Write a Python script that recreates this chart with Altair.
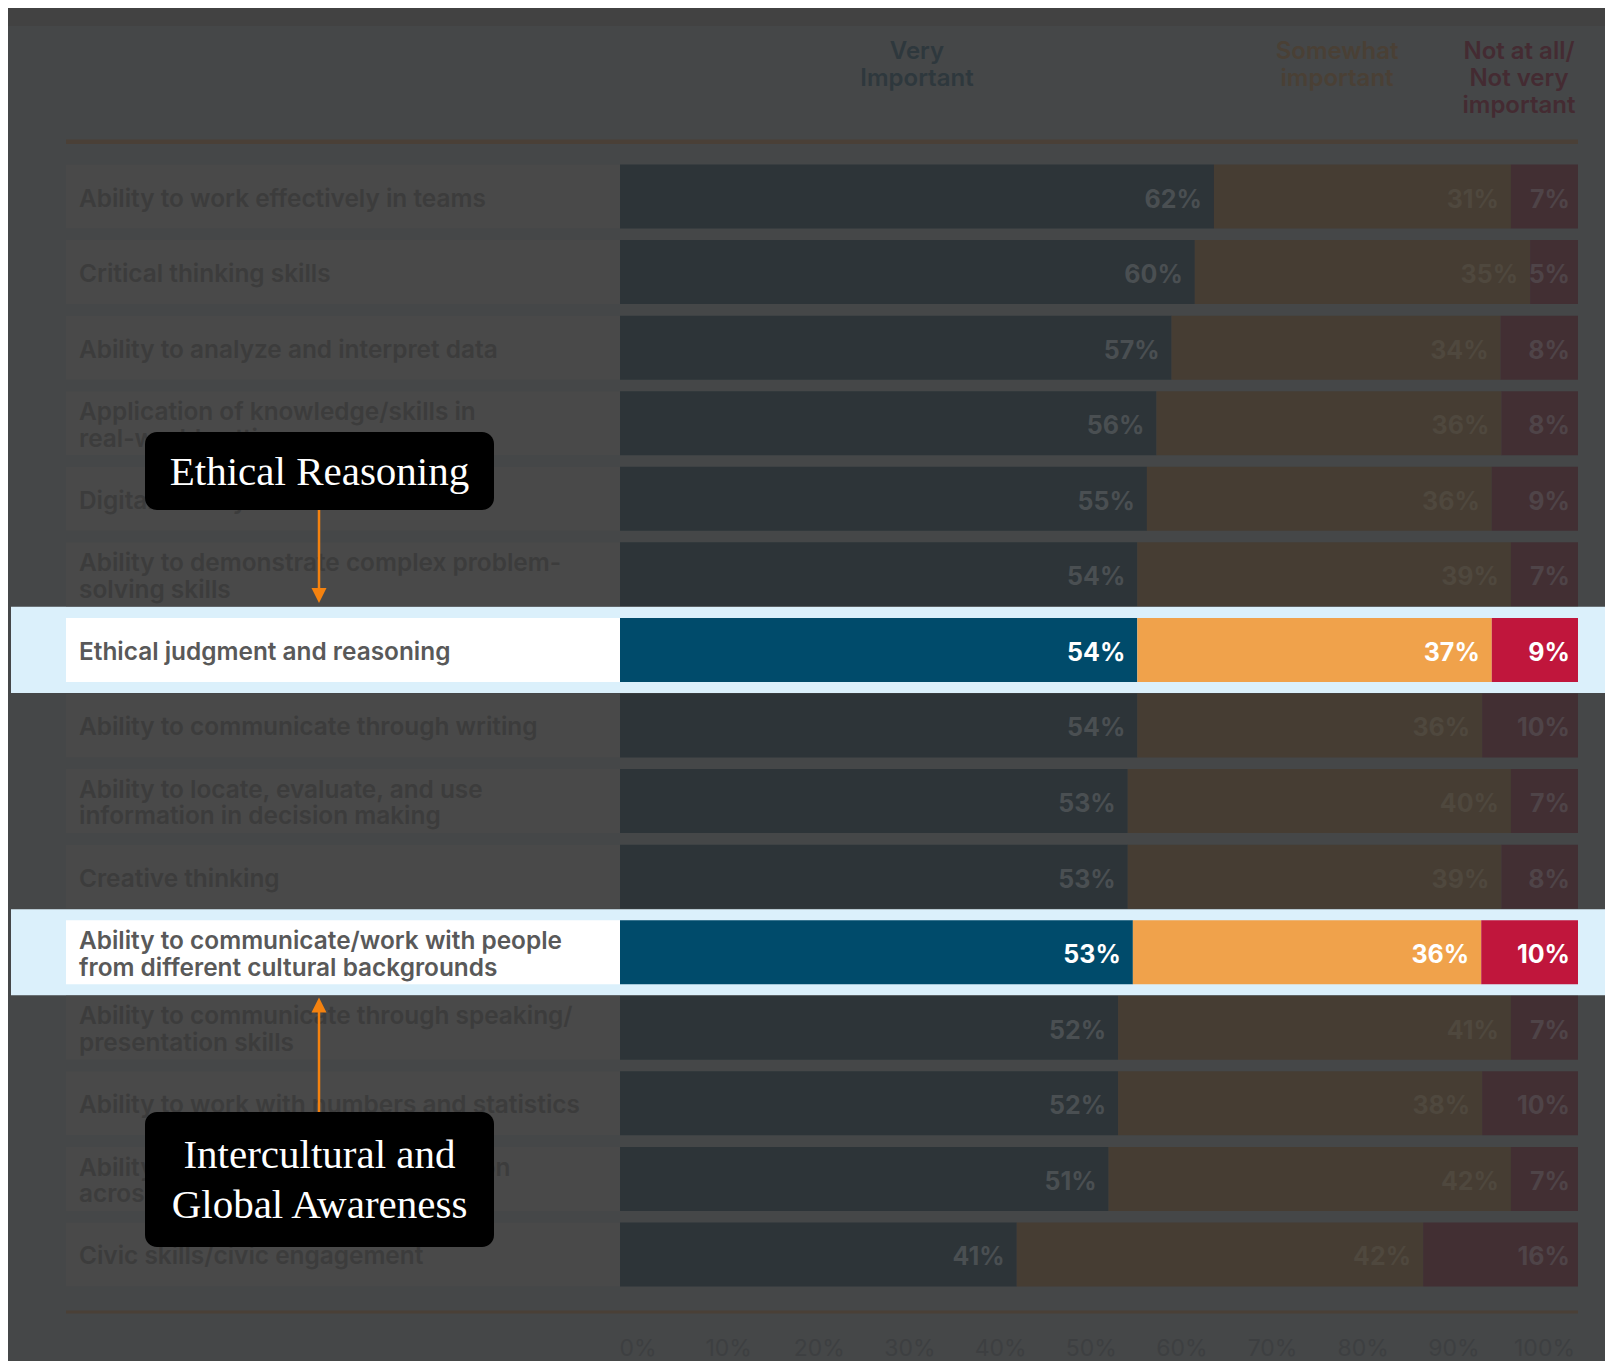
import altair as alt
import pandas as pd

# ---------------- data ----------------
labels = [
    "Ability to work effectively in teams",
    "Critical thinking skills",
    "Ability to analyze and interpret data",
    "Application of knowledge/skills in\nreal-world settings",
    "Digital literacy",
    "Ability to demonstrate complex problem-\nsolving skills",
    "Ethical judgment and reasoning",
    "Ability to communicate through writing",
    "Ability to locate, evaluate, and use\ninformation in decision making",
    "Creative thinking",
    "Ability to communicate/work with people\nfrom different cultural backgrounds",
    "Ability to communicate through speaking/\npresentation skills",
    "Ability to work with numbers and statistics",
    "Ability to integrate ideas/information\nacross disciplines",
    "Civic skills/civic engagement",
]
very = [62, 60, 57, 56, 55, 54, 54, 54, 53, 53, 53, 52, 52, 51, 41]
somewhat = [31, 35, 34, 36, 36, 39, 37, 36, 40, 39, 36, 41, 38, 42, 42]
not_imp = [7, 5, 8, 8, 9, 7, 9, 10, 7, 8, 10, 7, 10, 7, 16]
highlighted_rows = [6, 10]
segment_names = ["Very Important", "Somewhat important", "Not at all/Not very important"]
header_lines = [["Very", "Important"], ["Somewhat", "important"], ["Not at all/", "Not very", "important"]]
tick_values = [0, 10, 20, 30, 40, 50, 60, 70, 80, 90, 100]
callout_1 = ["Ethical Reasoning"]
callout_2 = ["Intercultural and", "Global Awareness"]

# ---------------- layout (pixels -> scale units) ----------------
W, H = 1597, 1353
X0, PXPCT = 612.0, 9.58          # x pixel of 0 %, pixels per 1 %
Y0, PXROW = 188.5, 75.57         # y pixel of row 0 centre, pixels per row
XMIN, XMAX = -X0 / PXPCT, (W - X0) / PXPCT
YMIN, YMAX = -Y0 / PXROW, (H - Y0) / PXROW


def px(xp):
    return (xp - X0) / PXPCT


def py(yp):
    return (yp - Y0) / PXROW


BAR_HALF = 32 / PXROW
BAND_HALF = 0.57
LINE_H = 26.7
LABEL_X = px(71)
CELL_X0 = px(58)
FONT = "Inter"
SERIF = "Liberation Serif"

xs = alt.Scale(domain=[XMIN, XMAX], nice=False, zero=False)
ys = alt.Scale(domain=[YMIN, YMAX], nice=False, zero=False, reverse=True)


def X(f):
    return alt.X(f, type="quantitative", scale=xs, axis=None)


def X2(f):
    return alt.X2(f)


def Y(f):
    return alt.Y(f, type="quantitative", scale=ys, axis=None)


def Y2(f):
    return alt.Y2(f)


# ---------------- tables ----------------
rows = pd.DataFrame({
    "row": list(range(len(labels))),
    "label": labels,
    "state": ["hl" if i in highlighted_rows else "dim" for i in range(len(labels))],
})
rows["nlines"] = rows["label"].str.count("\n") + 1
rows["ly"] = rows["row"] - (rows["nlines"] - 1) * (LINE_H / 2) / PXROW
rows["y0"] = rows["row"] - BAR_HALF
rows["y1"] = rows["row"] + BAR_HALF
rows["cx0"] = CELL_X0
rows["cx1"] = 0.0
rows["lx"] = LABEL_X

seg_recs = []
for i in range(len(labels)):
    vals = [very[i], somewhat[i], not_imp[i]]
    tot = sum(vals)
    cum = 0
    for s, v in enumerate(vals):
        x0 = 100.0 * cum / tot
        cum += v
        x1 = 100.0 * cum / tot
        seg_recs.append({
            "row": i, "seg": s, "segment": segment_names[s], "value": v,
            "text": f"{v}%", "x0": x0, "x1": x1,
            "key": f"{s}_{rows.state[i]}",
            "y0": i - BAR_HALF, "y1": i + BAR_HALF,
        })
segs = pd.DataFrame(seg_recs)

bands = pd.DataFrame({"row": highlighted_rows})
bands["y0"] = bands["row"] - BAND_HALF
bands["y1"] = bands["row"] + BAND_HALF
bands["x0"] = px(3)
bands["x1"] = XMAX

top_band = pd.DataFrame({"x0": [XMIN], "x1": [XMAX], "y0": [YMIN], "y1": [py(18)]})

head_x = [31.0, 74.85, 93.84]
head_y = [py(44.4), py(71.2), py(97.9)]
head_recs = []
for s, lines in enumerate(header_lines):
    for j, t in enumerate(lines):
        head_recs.append({"x": head_x[s], "y": head_y[j], "text": t, "key": str(s)})
heads = pd.DataFrame(head_recs)

hrule = pd.DataFrame({"x0": [CELL_X0], "x1": [100.0], "y": [py(133.7)]})
brule = pd.DataFrame({"x0": [CELL_X0], "x1": [100.0], "y": [py(1304)]})

ticks = pd.DataFrame({"v": tick_values, "text": [f"{v}%" for v in tick_values]})
ticks["x"] = px(630) + ticks["v"] * (px(1536.5) - px(630)) / 100.0
ticks["y"] = py(1341)

boxes = pd.DataFrame({
    "x0": [px(137), px(137)], "x1": [px(486), px(486)],
    "y0": [py(424), py(1104)], "y1": [py(502), py(1239)],
})
ctext = pd.DataFrame({
    "text": callout_1 + callout_2,
    "x": [px(311.5)] * 3,
    "y": [py(477), py(1160), py(1210)],
})
ARROW_X = px(311)
arrow_lines = pd.DataFrame({
    "x": [ARROW_X, ARROW_X],
    "y0": [py(502), py(1002)],
    "y1": [py(583), py(1104)],
})
arrow_heads = pd.DataFrame({
    "x": [ARROW_X, ARROW_X],
    "y": [py(587.5), py(997)],
    "dir": ["down", "up"],
})

# ---------------- layers ----------------
L_top = alt.Chart(top_band).mark_rect(color="#424242").encode(
    x=X("x0"), x2=X2("x1"), y=Y("y0"), y2=Y2("y1"))

L_bands = alt.Chart(bands).mark_rect(color="#dbf0fb").encode(
    x=X("x0"), x2=X2("x1"), y=Y("y0"), y2=Y2("y1"))

L_cells = alt.Chart(rows).mark_rect().encode(
    x=X("cx0"), x2=X2("cx1"), y=Y("y0"), y2=Y2("y1"),
    color=alt.Color("state:N", scale=alt.Scale(domain=["dim", "hl"], range=["#494949", "#ffffff"]), legend=None))

bar_keys = ["0_dim", "1_dim", "2_dim", "0_hl", "1_hl", "2_hl"]
L_bars = alt.Chart(segs).mark_rect().encode(
    x=X("x0"), x2=X2("x1"), y=Y("y0"), y2=Y2("y1"),
    color=alt.Color("key:N", scale=alt.Scale(domain=bar_keys,
                    range=["#2d3438", "#463d33", "#422f33", "#004b6b", "#f0a24b", "#c0163c"]), legend=None))

val_colors = alt.Color("key:N", scale=alt.Scale(domain=bar_keys,
                       range=["#4a4f52", "#4f483e", "#4f4448", "#ffffff", "#ffffff", "#ffffff"]), legend=None)
L_vals = alt.Chart(segs).transform_filter(alt.datum.seg < 2).mark_text(
    align="right", baseline="middle", dx=-12, dy=3, font=FONT, fontSize=25, fontWeight="bold").encode(
    x=X("x1"), y=Y("row"), text="text:N", color=val_colors)
L_vals_red = alt.Chart(segs).transform_filter(alt.datum.seg == 2).mark_text(
    align="right", baseline="middle", dx=-8, dy=3, font=FONT, fontSize=25, fontWeight="bold").encode(
    x=X("x1"), y=Y("row"), text="text:N", color=val_colors)

L_labels = alt.Chart(rows).mark_text(align="left", baseline="middle", dy=3, font=FONT, fontSize=24.4,
                                     fontWeight=600, lineBreak="\n", lineHeight=LINE_H).encode(
    x=X("lx"), y=Y("ly"), text="label:N",
    color=alt.Color("state:N", scale=alt.Scale(domain=["dim", "hl"], range=["#3c3c3c", "#595959"]), legend=None))

L_heads = alt.Chart(heads).mark_text(align="center", baseline="middle", font=FONT, fontSize=24,
                                     fontWeight=600).encode(
    x=X("x"), y=Y("y"), text="text:N",
    color=alt.Color("key:N", scale=alt.Scale(domain=["0", "1", "2"],
                    range=["#2e383d", "#4a4035", "#442b32"]), legend=None))

L_hrule = alt.Chart(hrule).mark_rule(color="#4a4037", strokeWidth=4.5).encode(
    x=X("x0"), x2=X2("x1"), y=Y("y"))
L_brule = alt.Chart(brule).mark_rule(color="#4a4037", strokeWidth=3).encode(
    x=X("x0"), x2=X2("x1"), y=Y("y"))

L_ticks = alt.Chart(ticks).mark_text(align="center", baseline="middle", font=FONT, fontSize=23,
                                     color="#3d3f41").encode(
    x=X("x"), y=Y("y"), text="text:N")

L_boxes = alt.Chart(boxes).mark_rect(color="#000000", cornerRadius=12).encode(
    x=X("x0"), x2=X2("x1"), y=Y("y0"), y2=Y2("y1"))

L_ctext = alt.Chart(ctext).mark_text(align="center", baseline="alphabetic", font=SERIF, fontSize=41,
                                     color="#ffffff").encode(
    x=X("x"), y=Y("y"), text="text:N")

L_alines = alt.Chart(arrow_lines).mark_rule(color="#f5820f", strokeWidth=2.5).encode(
    x=X("x"), y=Y("y0"), y2=Y2("y1"))

L_ahead_down = alt.Chart(arrow_heads).transform_filter(alt.datum.dir == "down").mark_point(
    shape="M-1,-1L1,-1L0,1Z", filled=True, opacity=1, color="#f5820f", size=225).encode(
    x=X("x"), y=Y("y"))
L_ahead_up = alt.Chart(arrow_heads).transform_filter(alt.datum.dir == "up").mark_point(
    shape="M-1,1L1,1L0,-1Z", filled=True, opacity=1, color="#f5820f", size=225).encode(
    x=X("x"), y=Y("y"))

chart = alt.layer(
    L_top, L_bands, L_cells, L_bars, L_vals, L_vals_red, L_labels, L_heads, L_hrule, L_brule, L_ticks,
    L_boxes, L_ctext, L_alines, L_ahead_down, L_ahead_up,
).resolve_scale(color="independent").properties(
    width=W, height=H, padding=0, autosize="none", background="#454748",
).configure_view(stroke=None)

chart.save("out.html", embed_options={"renderer": "svg", "actions": False})
